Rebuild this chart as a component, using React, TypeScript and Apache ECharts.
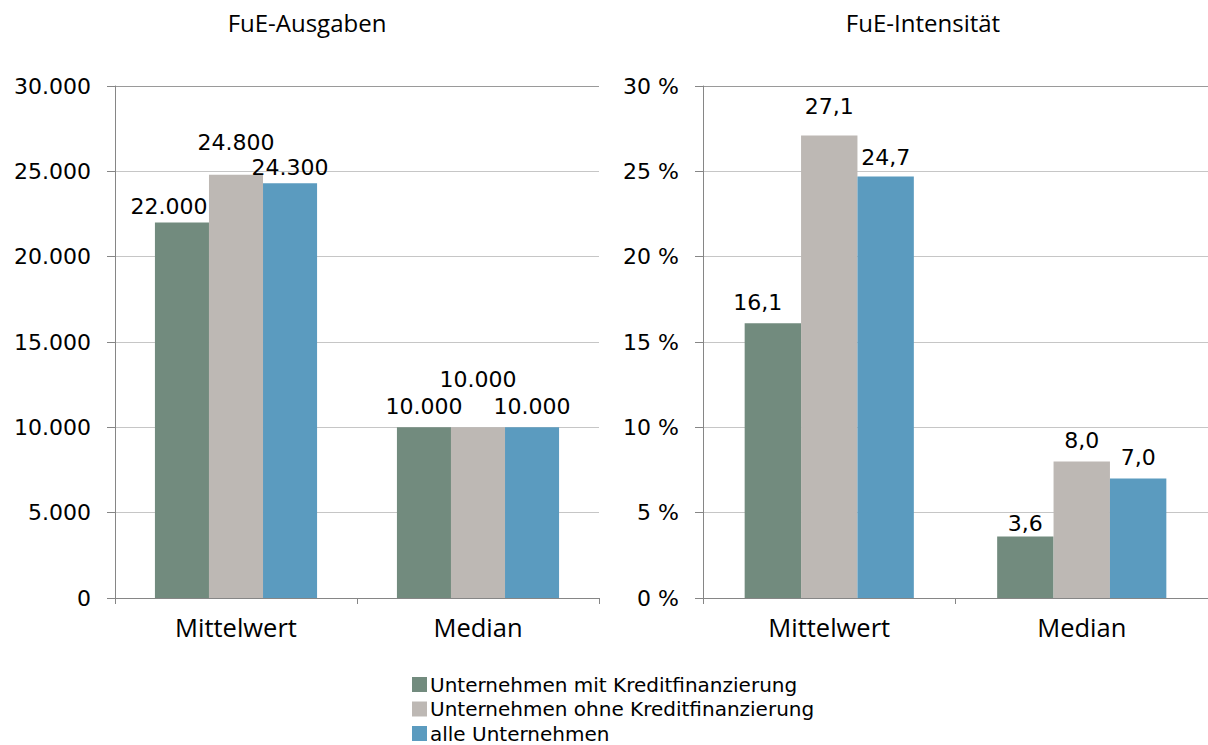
import React, { useEffect, useRef } from "react";
import * as echarts from "echarts";

const categories = ["Mittelwert", "Median"];
const seriesNames = [
  "Unternehmen mit Kreditfinanzierung",
  "Unternehmen ohne Kreditfinanzierung",
  "alle Unternehmen",
];
// FuE-Ausgaben
const ausgabenMit = [22000, 10000];
const ausgabenOhne = [24800, 10000];
const ausgabenAlle = [24300, 10000];
// FuE-Intensität (%)
const intensitaetMit = [16.1, 3.6];
const intensitaetOhne = [27.1, 8.0];
const intensitaetAlle = [24.7, 7.0];

const titles = ["FuE-Ausgaben", "FuE-Intensität"];

const colors = ["#728B7E", "#BDB8B4", "#5B9BBF"];

// label offsets (style only)
const leftOffsets = [
  [[-13, 0], [0, -5]],
  [[0, -16], [0, -32]],
  [[0, 0], [0, -5]],
];
const rightOffsets = [
  [[-15, -5], [0, 3]],
  [[0, -13], [0, -5]],
  [[0, -3], [0, -5]],
];

const numFont = "DejaVu Sans";
const txtFont = "Open Sans";

function fmtThousands(v: number) {
  return String(Math.round(v)).replace(/\B(?=(\d{3})+(?!\d))/g, ".");
}
function fmtComma(v: number) {
  return v.toFixed(1).replace(".", ",");
}

export default function App() {
  const ref = useRef<HTMLDivElement>(null);
  useEffect(() => {
    if (!ref.current) return;
    const chart = echarts.init(ref.current, null, { renderer: "svg" });
    const leftData = [ausgabenMit, ausgabenOhne, ausgabenAlle];
    const rightData = [intensitaetMit, intensitaetOhne, intensitaetAlle];

    const makeSeries = (data: number[][], idx: number, offsets: number[][][], fmt: (v: number) => string) =>
      data.map((vals, s) => ({
        type: "bar",
        name: seriesNames[s],
        xAxisIndex: idx,
        yAxisIndex: idx,
        barGap: "0%",
        barCategoryGap: "33%",
        itemStyle: { color: colors[s] },
        label: {
          show: true,
          position: "top",
          distance: 5,
          fontFamily: numFont,
          fontSize: 22,
          color: "#000",
          formatter: (p: any) => fmt(p.value),
        },
        data: vals.map((v, i) => ({ value: v, label: { offset: offsets[s][i] } })),
      }));

    const xAxisBase = (gridIndex: number) => ({
      type: "category",
      gridIndex,
      data: categories,
      axisLine: { show: true, lineStyle: { color: "#868686", width: 1 } },
      axisTick: { show: true, alignWithLabel: false, length: 6, lineStyle: { color: "#868686" } },
      axisLabel: { color: "#000", fontFamily: txtFont, fontSize: 25.5, margin: 16 },
    });
    const yAxisBase = (gridIndex: number, fmt: (v: number) => string, max: number, interval: number) => ({
      type: "value",
      gridIndex,
      min: 0,
      max,
      interval,
      axisLine: { show: true, lineStyle: { color: "#868686", width: 1 } },
      axisTick: { show: true, length: 8, lineStyle: { color: "#868686" } },
      axisLabel: { color: "#000", fontFamily: numFont, fontSize: 22, margin: 24, formatter: fmt },
      splitLine: {
        show: true,
        lineStyle: {
          color: ["#c6c6c6", "#c6c6c6", "#c6c6c6", "#c6c6c6", "#c6c6c6", "#c6c6c6", "#9a9a9a"],
          width: 1,
        },
      },
    });

    const legendTops = [674.5, 699, 723.5];
    const legends = seriesNames.map((name, i) => ({
      orient: "vertical",
      left: 412,
      top: legendTops[i],
      padding: 0,
      itemWidth: 15,
      itemHeight: 15,
      itemGap: 0,
      icon: "rect",
      data: [name],
      textStyle: { fontFamily: numFont, fontSize: 20, lineHeight: 19, color: "#000", padding: [0, 0, 0, -2] },
    }));

    chart.setOption({
      animation: false,
      backgroundColor: "#fff",
      title: [
        {
          text: titles[0],
          left: 302,
          top: 5,
          textAlign: "center",
          textStyle: { fontFamily: txtFont, fontSize: 24, fontWeight: "normal", color: "#000" },
        },
        {
          text: titles[1],
          left: 918,
          top: 5,
          textAlign: "center",
          textStyle: { fontFamily: txtFont, fontSize: 24, fontWeight: "normal", color: "#000" },
        },
      ],
      legend: legends,
      grid: [
        { left: 115, top: 86, width: 484, height: 512 },
        { left: 703, top: 86, width: 508, height: 512 },
      ],
      xAxis: [xAxisBase(0), xAxisBase(1)],
      yAxis: [
        yAxisBase(0, (v: number) => fmtThousands(v), 30000, 5000),
        yAxisBase(1, (v: number) => `${v} %`, 30, 5),
      ],
      series: [
        ...makeSeries(leftData, 0, leftOffsets, fmtThousands),
        ...makeSeries(rightData, 1, rightOffsets, fmtComma),
      ],
    });
    return () => chart.dispose();
  }, []);
  return <div ref={ref} style={{ width: 1208, height: 745, position: "absolute", left: 0, top: 0 }} />;
}
